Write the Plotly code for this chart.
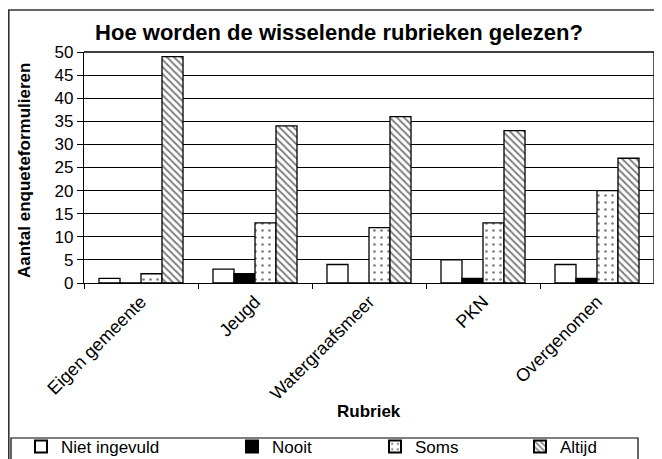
import plotly.graph_objects as go

# ---- data ----
categories = ["Eigen gemeente", "Jeugd", "Watergraafsmeer", "PKN", "Overgenomen"]
niet_ingevuld = [1, 3, 4, 5, 4]
nooit = [0, 2, 0, 1, 1]
soms = [2, 13, 12, 13, 20]
altijd = [49, 34, 36, 33, 27]
series_names = ["Niet ingevuld", "Nooit", "Soms", "Altijd"]
y_tick_values = list(range(0, 51, 5))

title_text = "Hoe worden de wisselende rubrieken gelezen?"
y_title = "Aantal enqueteformulieren"
x_title = "Rubriek"

# ---- layout geometry ----
# the page body has an 8px margin, so the figure starts at page pixel (8, 8)
OFF = 8
W, H = 662 - OFF, 459 - OFF
L, R, T, B = 84 - OFF, 8, 52 - OFF, 176
PW = W - L - R
PH = H - T - B
FONT = "Liberation Sans, Arial, sans-serif"


def px_x(page_px):
    return (page_px - OFF - L) / PW


def px_y(page_py):
    return (H - B - (page_py - OFF)) / PH


line_style = dict(color="black", width=1.3)
styles = [
    dict(color="white", line=line_style),
    dict(color="black", line=line_style),
    dict(color="white", line=line_style,
         pattern=dict(shape=".", fgcolor="black", bgcolor="white", size=7, solidity=0.12)),
    dict(color="white", line=line_style,
         pattern=dict(shape="\\", fgcolor="black", bgcolor="white", size=5, solidity=0.4)),
]
legend_widths = [166, 98, 100, 60]
values = [niet_ingevuld, nooit, soms, altijd]

fig = go.Figure()
for name, vals, st, lw in zip(series_names, values, styles, legend_widths):
    fig.add_trace(go.Bar(name=name, x=categories, y=vals, marker=st, legendwidth=lw))

fig.update_layout(
    width=W, height=H,
    margin=dict(l=L, r=R, t=T, b=B, autoexpand=False),
    paper_bgcolor="white", plot_bgcolor="white",
    font=dict(family=FONT, size=17, color="black"),
    barmode="group", bargap=0.263, bargroupgap=0,
    title=dict(text="<b>" + title_text + "</b>", x=(339 - OFF) / W, xanchor="center",
               y=1 - (32 - OFF) / H, yanchor="middle", yref="container",
               font=dict(size=22, family=FONT, color="black")),
    showlegend=True,
    legend=dict(orientation="h", x=px_x(21), xanchor="left", y=px_y(429), yanchor="top",
                bgcolor="rgba(0,0,0,0)", borderwidth=0, font=dict(size=17, family=FONT),
                itemsizing="constant", traceorder="normal"),
    xaxis=dict(showline=True, linecolor="black", linewidth=1.3, mirror=False,
               ticks="outside", tickson="boundaries", ticklen=5, tickcolor="black",
               tickangle=-45, showgrid=False, tickfont=dict(size=18)),
    yaxis=dict(range=[0, 50], tickvals=y_tick_values, showline=True, linecolor="black",
               linewidth=1.3, ticks="outside", ticklen=6, tickcolor="black",
               showgrid=True, gridcolor="black", gridwidth=1, zeroline=False,
               tickfont=dict(size=17)),
    annotations=[
        dict(text="<b>" + y_title + "</b>", xref="paper", yref="paper",
             x=px_x(24), y=px_y(171), textangle=-90, showarrow=False,
             xanchor="center", yanchor="middle", font=dict(size=17, family=FONT)),
        dict(text="<b>" + x_title + "</b>", xref="paper", yref="paper",
             x=px_x(369), y=px_y(411), showarrow=False,
             xanchor="center", yanchor="middle", font=dict(size=17, family=FONT)),
    ],
    shapes=[
        # right and top border of plot area
        dict(type="line", xref="paper", yref="paper", x0=1, x1=1, y0=0, y1=1,
             line=dict(color="black", width=1.3)),
        dict(type="line", xref="paper", yref="paper", x0=0, x1=1, y0=1, y1=1,
             line=dict(color="black", width=1.3)),
        # outer chart border
        dict(type="rect", xref="paper", yref="paper", x0=px_x(8.8), x1=px_x(680),
             y0=px_y(480), y1=px_y(10), line=dict(color="#333333", width=1.6)),
        # legend box
        dict(type="rect", xref="paper", yref="paper", x0=px_x(11), x1=px_x(638),
             y0=px_y(475), y1=px_y(438), line=dict(color="black", width=1.2)),
    ],
)

fig.write_html("out.html")
